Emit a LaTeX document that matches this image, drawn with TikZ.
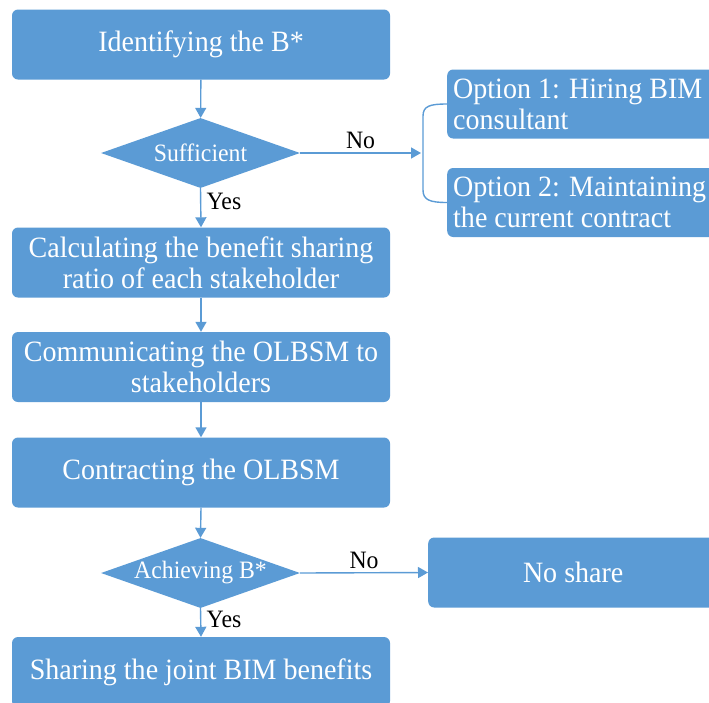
\documentclass[tikz,border=0pt]{standalone}
\usepackage{fontspec}
\setmainfont[FakeStretch=0.95]{Liberation Serif}
\usetikzlibrary{shapes.geometric,arrows.meta}
\definecolor{boxblue}{HTML}{5B9BD5}
\tikzset{
  box/.style={draw=none,fill=boxblue,rounded corners=6pt,text=white,
    minimum width=378pt,minimum height=70pt,inner sep=0pt,align=center,
    font=\fontsize{29.5}{31}\selectfont},
  optbox/.style={draw=none,fill=boxblue,rounded corners=6pt,text=white,
    minimum width=290pt,minimum height=69pt,inner sep=0pt,anchor=west,
    font=\fontsize{29.5}{31}\selectfont},
  decision/.style={diamond,draw=none,fill=boxblue,inner sep=0pt,
    minimum width=199pt,minimum height=70pt},
  dtext/.style={text=white,font=\fontsize{25}{28}\selectfont},
  flow/.style={draw=boxblue,line width=1.4pt,-{Triangle[length=10pt,width=11pt]}},
  lbl/.style={text=black,font=\fontsize{25}{28}\selectfont}
}
\begin{document}
\begin{tikzpicture}[x=1pt,y=-1pt]
\useasboundingbox (0,0) rectangle (709,702);
\clip (0,0) rectangle (709,702);
\node[box] (b1) at (201,44.5) {Identifying the B*};
\node[decision] (d1) at (200.5,153) {};
\node[dtext] at (d1.center) {Sufficient};
\node[box] (b2) at (201,262.5) {Calculating the benefit sharing\\ratio of each stakeholder};
\node[box] (b3) at (201,367) {Communicating the OLBSM to\\stakeholders};
\node[box] (b4) at (201,472.5) {Contracting the OLBSM};
\node[decision] (d2) at (200.5,573) {};
\node[dtext] at (d2.center) {Achieving B*};
\node[box] (b5) at (201,672) {Sharing the joint BIM benefits};
\node[optbox] (o1) at (447,104) {\hspace*{4pt}\parbox{282pt}{\raggedright Option 1: Hiring BIM\\consultant}};
\node[optbox] (o2) at (447,202.5) {\hspace*{4pt}\parbox{282pt}{\raggedright Option 2: Maintaining\\the current contract}};
\node[box,minimum width=290pt,anchor=west] (ns) at (428,572.5) {No share};
\coordinate (br) at (421,153);
\draw[draw=boxblue,line width=1.4pt] (o1.west) .. controls (430,104) and (423,106) .. (423,116) -- (423,190) .. controls (423,200) and (430,202.5) .. (o2.west);
\draw[flow] (b1) -- (d1);
\draw[flow] (d1.east) -- node[lbl,above=0pt] {No} (br);
\draw[flow] (d1.south) -- node[lbl,right=2pt,pos=0.35] {Yes} (b2.north);
\draw[flow] (b2) -- (b3);
\draw[flow] (b3) -- (b4);
\draw[flow] (b4.south) -- (d2.north);
\draw[flow] (d2.east) -- node[lbl,above=0pt] {No} (ns.west);
\draw[flow] (d2.south) -- node[lbl,right=2pt,pos=0.4] {Yes} (b5.north);
\end{tikzpicture}
\end{document}
